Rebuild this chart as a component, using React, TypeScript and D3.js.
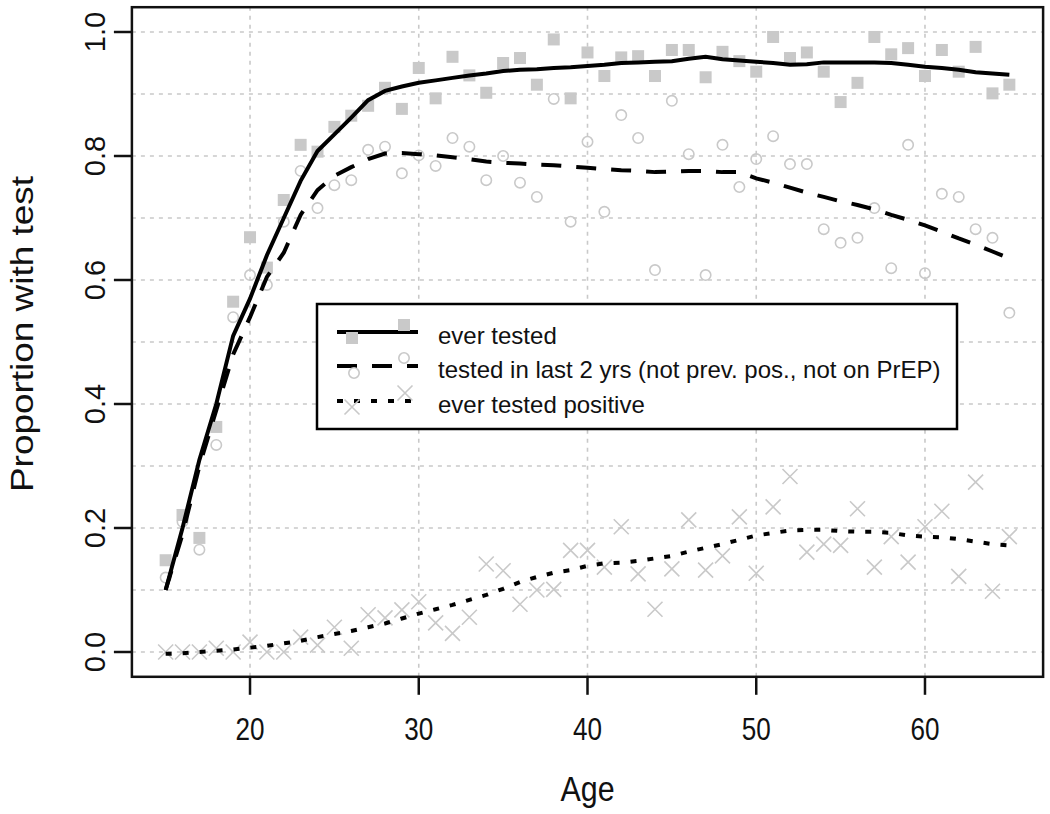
import React from "react";
import * as d3 from "d3";

const ages = d3.range(15, 66);

const everTestedFit = [0.10, 0.20, 0.31, 0.40, 0.51, 0.57, 0.64, 0.70, 0.76, 0.808, 0.835, 0.862, 0.89, 0.905, 0.912, 0.918, 0.922, 0.926, 0.93, 0.933, 0.937, 0.939, 0.94, 0.942, 0.943, 0.945, 0.947, 0.95, 0.951, 0.952, 0.953, 0.957, 0.96, 0.956, 0.954, 0.952, 0.95, 0.947, 0.948, 0.951, 0.951, 0.951, 0.951, 0.95, 0.947, 0.944, 0.942, 0.939, 0.935, 0.933, 0.931];

const recentFit = [0.10, 0.19, 0.30, 0.39, 0.48, 0.54, 0.605, 0.644, 0.705, 0.745, 0.768, 0.782, 0.795, 0.804, 0.805, 0.803, 0.801, 0.798, 0.795, 0.791, 0.789, 0.788, 0.786, 0.785, 0.783, 0.781, 0.779, 0.777, 0.776, 0.774, 0.775, 0.776, 0.776, 0.774, 0.774, 0.764, 0.757, 0.749, 0.741, 0.734, 0.727, 0.721, 0.714, 0.705, 0.697, 0.688, 0.678, 0.667, 0.657, 0.646, 0.635];

const positiveFit = [-0.003, -0.002, 0.0, 0.002, 0.004, 0.007, 0.01, 0.014, 0.018, 0.024, 0.029, 0.034, 0.04, 0.046, 0.054, 0.062, 0.069, 0.076, 0.084, 0.092, 0.102, 0.113, 0.121, 0.128, 0.132, 0.139, 0.143, 0.144, 0.147, 0.151, 0.155, 0.162, 0.168, 0.174, 0.181, 0.188, 0.192, 0.196, 0.197, 0.197, 0.195, 0.194, 0.194, 0.192, 0.188, 0.186, 0.185, 0.182, 0.178, 0.174, 0.172];

const everTestedObs = [0.148, 0.221, 0.184, 0.363, 0.565, 0.669, 0.62, 0.729, 0.818, 0.807, 0.847, 0.865, 0.881, 0.91, 0.876, 0.942, 0.893, 0.96, 0.93, 0.902, 0.95, 0.958, 0.915, 0.988, 0.893, 0.967, 0.929, 0.959, 0.961, 0.929, 0.971, 0.971, 0.927, 0.968, 0.953, 0.936, 0.992, 0.958, 0.967, 0.936, 0.887, 0.918, 0.992, 0.964, 0.974, 0.929, 0.971, 0.936, 0.976, 0.901, 0.915];

const recentObs = [0.12, 0.21, 0.165, 0.334, 0.54, 0.608, 0.592, 0.694, 0.776, 0.716, 0.753, 0.761, 0.81, 0.815, 0.772, 0.801, 0.784, 0.829, 0.815, 0.761, 0.80, 0.757, 0.734, 0.892, 0.694, 0.823, 0.71, 0.866, 0.829, 0.616, 0.889, 0.803, 0.608, 0.818, 0.75, 0.795, 0.832, 0.787, 0.787, 0.682, 0.66, 0.668, 0.716, 0.619, 0.818, 0.611, 0.739, 0.734, 0.682, 0.668, 0.547];

const positiveObs = [0.0, 0.0, 0.0, 0.006, 0.0, 0.016, 0.0, 0.0, 0.024, 0.011, 0.04, 0.006, 0.06, 0.055, 0.068, 0.081, 0.047, 0.03, 0.056, 0.142, 0.131, 0.077, 0.1, 0.101, 0.164, 0.164, 0.137, 0.202, 0.126, 0.069, 0.134, 0.213, 0.132, 0.155, 0.218, 0.127, 0.234, 0.283, 0.161, 0.174, 0.172, 0.231, 0.137, 0.186, 0.145, 0.202, 0.227, 0.122, 0.274, 0.098, 0.186];

const xTicks = [20, 30, 40, 50, 60];
const yTicks = [0, 0.2, 0.4, 0.6, 0.8, 1.0];
const yGrid = d3.range(0, 11).map((i) => i / 10);

const legendLabels = [
  "ever tested",
  "tested in last 2 yrs (not prev. pos., not on PrEP)",
  "ever tested positive",
];

const GREY = "#c9c9c9";
const FONT = "'Liberation Sans', Arial, sans-serif";

function Square({ cx, cy }: { cx: number; cy: number }) {
  return <rect x={cx - 6} y={cy - 6} width={12} height={12} fill={GREY} />;
}
function Circle({ cx, cy }: { cx: number; cy: number }) {
  return <circle cx={cx} cy={cy} r={5.2} fill="none" stroke={GREY} strokeWidth={1.6} />;
}
function Cross({ cx, cy }: { cx: number; cy: number }) {
  const h = 7.5;
  return (
    <path
      d={`M${cx - h},${cy - h}L${cx + h},${cy + h}M${cx - h},${cy + h}L${cx + h},${cy - h}`}
      stroke={GREY}
      strokeWidth={1.6}
      fill="none"
    />
  );
}

export default function App() {
  const x = d3.scaleLinear().domain([13, 67]).range([131.9, 1043.1]);
  const y = d3.scaleLinear().domain([-0.04, 1.04]).range([676.8, 7.2]);
  const [x0, x1] = x.range();
  const [yb, yt] = y.range();

  const line = d3
    .line<number>()
    .x((_, i) => x(ages[i]))
    .y((d) => y(d));

  const legX = 317;
  const legY = 304;
  const legW = 640;
  const legH = 125;
  const rowY = [332, 366, 401];
  const lineStyles = [
    { dash: "none" },
    { dash: "20,15" },
    { dash: "6,11" },
  ];

  return (
    <svg
      width={1050}
      height={814}
      style={{ position: "absolute", left: 0, top: 0, background: "#fff" }}
      fontFamily={FONT}
    >
      <rect x={0} y={0} width={1050} height={814} fill="#fff" />
      {/* grid */}
      <g stroke={GREY} strokeWidth={1.6} strokeDasharray="4,5">
        {yGrid.map((g) => (
          <line key={"h" + g} x1={x0} x2={x1} y1={y(g)} y2={y(g)} />
        ))}
        {xTicks.map((t) => (
          <line key={"v" + t} x1={x(t)} x2={x(t)} y1={yb} y2={yt} />
        ))}
      </g>
      {/* points */}
      <g>
        {everTestedObs.map((v, i) => (
          <Square key={"s" + i} cx={x(ages[i])} cy={y(v)} />
        ))}
        {recentObs.map((v, i) => (
          <Circle key={"c" + i} cx={x(ages[i])} cy={y(v)} />
        ))}
        {positiveObs.map((v, i) => (
          <Cross key={"x" + i} cx={x(ages[i])} cy={y(v)} />
        ))}
      </g>
      {/* fitted lines */}
      <g fill="none" stroke="#000" strokeWidth={4}>
        <path d={line(everTestedFit) || ""} />
        <path d={line(recentFit) || ""} strokeDasharray="20,15" />
        <path d={line(positiveFit) || ""} strokeDasharray="6,11" />
      </g>
      {/* legend */}
      <g>
        <rect x={legX} y={legY} width={legW} height={legH} fill="#fff" stroke="#000" strokeWidth={2.5} />
        {legendLabels.map((lab, i) => (
          <g key={lab}>
            <line
              x1={337}
              x2={418}
              y1={rowY[i]}
              y2={rowY[i]}
              stroke="#000"
              strokeWidth={4}
              strokeDasharray={lineStyles[i].dash}
            />
            {i === 0 && (
              <>
                <Square cx={352} cy={rowY[i] + 6} />
                <Square cx={404} cy={rowY[i] - 7} />
              </>
            )}
            {i === 1 && (
              <>
                <Circle cx={354} cy={rowY[i] + 7} />
                <Circle cx={404} cy={rowY[i] - 8} />
              </>
            )}
            {i === 2 && (
              <>
                <Cross cx={352} cy={rowY[i] + 6} />
                <Cross cx={405} cy={rowY[i] - 8} />
              </>
            )}
            <text x={438} y={rowY[i] + 12} fontSize={24} fill="#111">
              {lab}
            </text>
          </g>
        ))}
      </g>
      {/* axes box */}
      <rect x={x0} y={yt} width={x1 - x0} height={yb - yt} fill="none" stroke="#111" strokeWidth={2.5} />
      {/* x axis ticks */}
      <g>
        {xTicks.map((t) => (
          <g key={"xt" + t}>
            <line x1={x(t)} x2={x(t)} y1={yb} y2={yb + 18} stroke="#111" strokeWidth={2.5} />
            <text
              transform={`translate(${x(t)},740) scale(0.9,1.05)`}
              fontSize={29}
              textAnchor="middle"
              fill="#111"
            >
              {t}
            </text>
          </g>
        ))}
      </g>
      {/* y axis ticks */}
      <g>
        {yTicks.map((t) => (
          <g key={"yt" + t}>
            <line x1={x0 - 18} x2={x0} y1={y(t)} y2={y(t)} stroke="#111" strokeWidth={2.5} />
            <text
              transform={`translate(${105},${y(t)}) rotate(-90)`}
              fontSize={29}
              textAnchor="middle"
              fill="#111"
            >
              {t.toFixed(1)}
            </text>
          </g>
        ))}
      </g>
      <text
        transform={`translate(${(x0 + x1) / 2},801) scale(0.95,1.1)`}
        fontSize={32}
        textAnchor="middle"
        fill="#111"
      >
        Age
      </text>
      <text
        transform={`translate(${33},${334}) rotate(-90)`}
        fontSize={31}
        textAnchor="middle"
        textLength={316}
        lengthAdjust="spacingAndGlyphs"
        fill="#111"
      >
        Proportion with test
      </text>
    </svg>
  );
}
